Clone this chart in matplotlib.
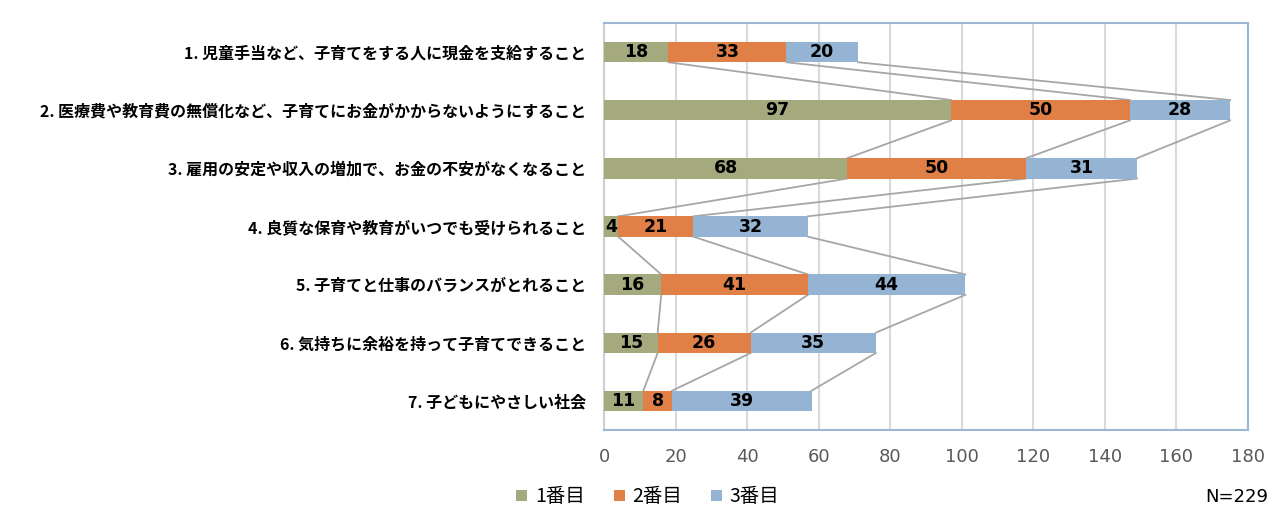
import numpy as np
import matplotlib
matplotlib.use('Agg')
from matplotlib import pyplot as plt

plt.rcParams['font.family'] = ['Noto Sans CJK JP', 'DejaVu Sans']

categories = ['1. 児童手当など、子育てをする人に現金を支給すること',
              '2. 医療費や教育費の無償化など、子育てにお金がかからないようにすること',
              '3. 雇用の安定や収入の増加で、お金の不安がなくなること',
              '4. 良質な保育や教育がいつでも受けられること',
              '5. 子育てと仕事のバランスがとれること',
              '6. 気持ちに余裕を持って子育てできること',
              '7. 子どもにやさしい社会']
first = [18, 97, 68, 4, 16, 15, 11]
second = [33, 50, 50, 21, 41, 26, 8]
third = [20, 28, 31, 32, 44, 35, 39]
series_names = ['1番目', '2番目', '3番目']
colors = ['#A4A97E', '#E07F46', '#95B4D3']

fig = plt.figure(figsize=(12.88, 5.32), dpi=100)
ax = fig.add_axes([604/1288, 1-430/532, (1248-604)/1288, (430-23)/532])

y = np.arange(len(categories))
h = 0.35
data = [np.array(first), np.array(second), np.array(third)]
left = np.zeros(len(categories))
ends = []
for vals, col, name in zip(data, colors, series_names):
    bars = ax.barh(y, vals, left=left, height=h, color=col, label=name, zorder=3)
    for b, v in zip(bars, vals):
        ax.text(b.get_x() + b.get_width()/2, b.get_y() + h/2, str(v),
                ha='center', va='center', fontsize=12.5, fontweight='bold',
                family='DejaVu Sans', color='black', zorder=4)
    left = left + vals
    ends.append(left.copy())

# series lines
for e in ends:
    for i in range(len(categories)-1):
        ax.plot([e[i], e[i+1]], [y[i] + h/2, y[i+1] - h/2],
                color='#A6A6A6', lw=1.3, zorder=2)

ax.set_xlim(0, 180)
ax.set_ylim(len(categories) - 0.5, -0.5)
ax.set_xticks(range(0, 181, 20))
ax.set_xticklabels([str(v) for v in range(0, 181, 20)], family='DejaVu Sans')
ax.set_yticks(y)
ax.set_yticklabels(categories, fontsize=11.5, fontweight='bold')
ax.tick_params(axis='x', length=0, labelsize=13, labelcolor='#595959', pad=13)
ax.tick_params(axis='y', length=0, pad=13)
ax.grid(axis='x', color='#D9D9D9', lw=1.5, zorder=0)
for s in ['top', 'right', 'bottom']:
    ax.spines[s].set_color('#9BB7D4')
    ax.spines[s].set_linewidth(1.5)
ax.spines['left'].set_color('#D0D0D0')
ax.spines['left'].set_linewidth(1.5)

fig.legend(loc='center', bbox_to_anchor=(648/1288, 1-497/532), ncol=3,
           frameon=False, fontsize=14, handlelength=0.55, handleheight=0.55,
           columnspacing=1.5, handletextpad=0.4)
fig.text(1268/1288, 1-497/532, 'N=229', ha='right', va='center', fontsize=13,
         family='DejaVu Sans')

fig.savefig('out.png', dpi=100)
